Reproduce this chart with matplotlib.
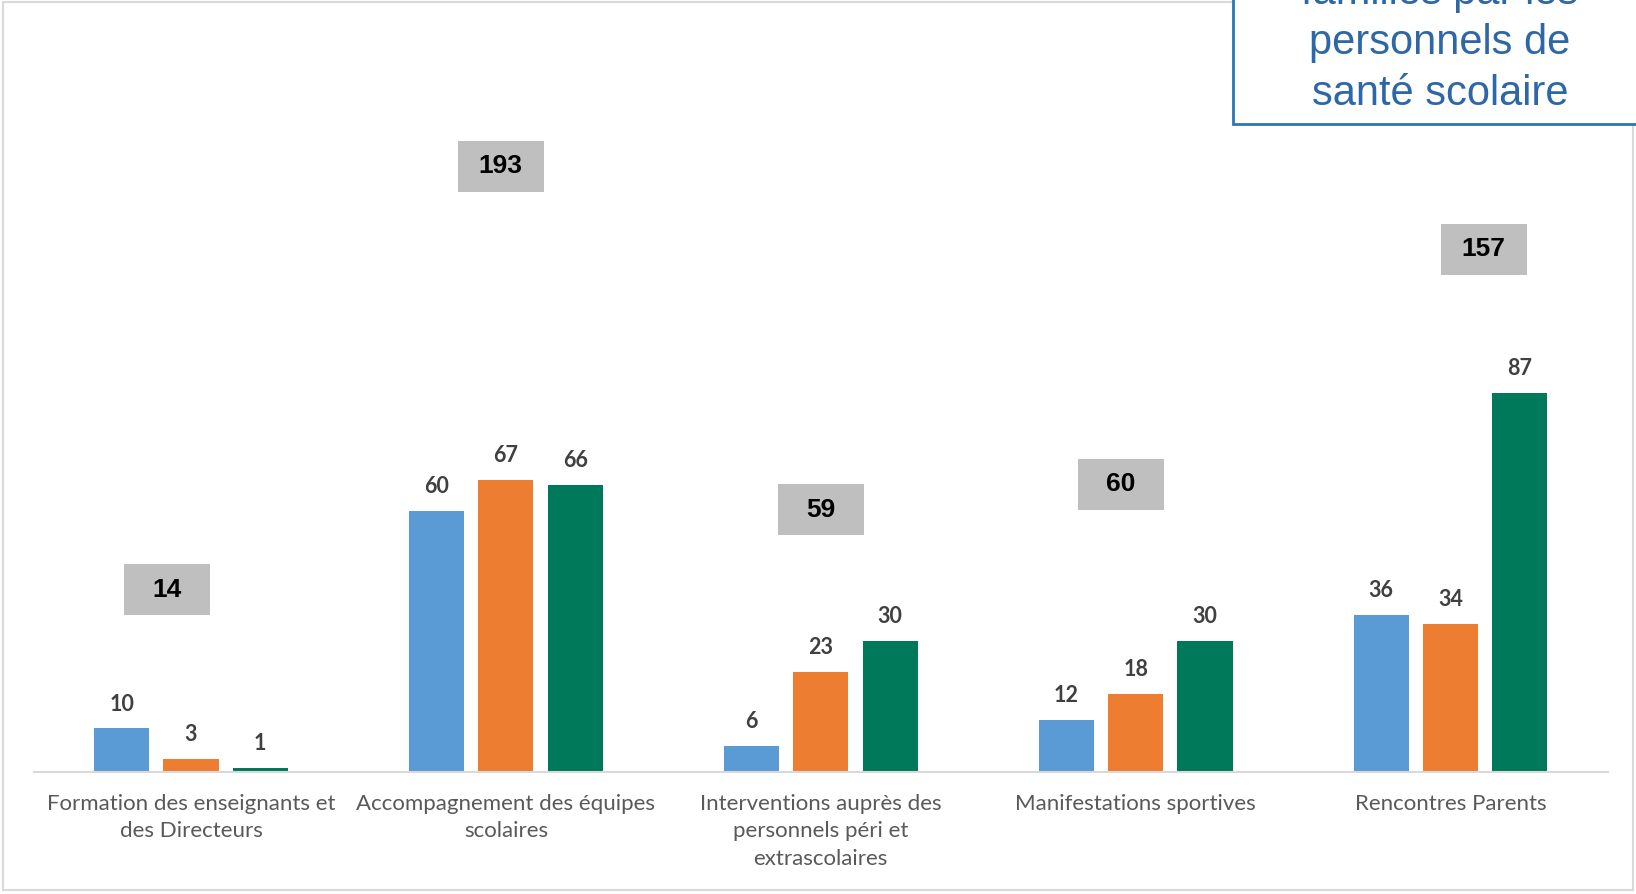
import matplotlib.pyplot as plt
from matplotlib.patches import Rectangle

# Data
categories = ["Formation des enseignants et\ndes Directeurs",
              "Accompagnement des équipes\nscolaires",
              "Interventions auprès des\npersonnels péri et\nextrascolaires",
              "Manifestations sportives",
              "Rencontres Parents"]
serie_1 = [10, 60, 6, 12, 36]
serie_2 = [3, 67, 23, 18, 34]
serie_3 = [1, 66, 30, 30, 87]
totals = [14, 193, 59, 60, 157]
title_lines = ["familles par les", "personnels de", "santé scolaire"]

# manual placement of the total boxes (category units / pixels)
total_dx = [-0.076, -0.016, 0.0, -0.048, 0.105]
total_dy = [10, 0, -19, 4, 4]

colors = ["#5B9BD5", "#ED7D31", "#00785A"]

plt.rcParams['font.family'] = ['Lato', 'DejaVu Sans']

fig = plt.figure(figsize=(16.36, 8.94), dpi=100)
ax = fig.add_axes([0.0205, 0.1365, 0.9624, 0.8523])

x = list(range(len(categories)))
width = 0.175
step = 0.22
for i, (vals, c) in enumerate(zip([serie_1, serie_2, serie_3], colors)):
    pos = [xi + (i - 1) * step for xi in x]
    bars = ax.bar(pos, vals, width, color=c)
    for b, v in zip(bars, vals):
        ax.annotate(str(v), (b.get_x() + b.get_width() / 2, v),
                    xytext=(0, 10), textcoords='offset points',
                    ha='center', va='bottom', fontsize=15.5, fontweight='bold',
                    color='#404040')

ax.set_xlim(-0.5, len(categories) - 0.5)
ax.set_ylim(0, 175)
ax.set_xticks(x)
ax.set_xticklabels(categories, fontsize=16, color='#595959', linespacing=1.45)
ax.tick_params(axis='x', length=0, pad=16)
ax.set_yticks([])
for s in ['top', 'right', 'left']:
    ax.spines[s].set_visible(False)
ax.spines['bottom'].set_color('#D9D9D9')
ax.spines['bottom'].set_linewidth(1.5)
ax.patch.set_alpha(0)

# totals on a secondary scale
ax2 = ax.twinx()
ax2.set_ylim(-57.1, 257.5)
ax2.axis('off')
bw, bh = 0.273, 21.0
for xi, t, dx, dy in zip(x, totals, total_dx, total_dy):
    cx = xi + dx
    cy = t + dy / 2.422
    ax2.add_patch(Rectangle((cx - bw / 2, cy - bh / 2), bw, bh,
                            facecolor='#BFBFBF', edgecolor='none'))
    ax2.text(cx, cy, str(t), ha='center', va='center', fontsize=19,
             fontweight='bold', color='black', family='Liberation Sans')

# outer frame
fig.patches.append(Rectangle((3 / 1636, 4 / 894), 1630 / 1636, 888 / 894,
                             transform=fig.transFigure, fill=False,
                             edgecolor='#D9D9D9', linewidth=1.5))

# title box cut by the top right corner
fig.patches.append(Rectangle((1233 / 1636, 1 - 124 / 894), 0.4, 0.3,
                             transform=fig.transFigure, facecolor='white',
                             edgecolor='#2E75B6', linewidth=2))
for k, line in enumerate(title_lines):
    fig.text(1440 / 1636, 1 - (-7 + 50.4 * k) / 894, line, ha='center',
             va='center', fontsize=30, color='#2E67A8',
             family='Liberation Sans')

fig.savefig('out.png', dpi=100)
